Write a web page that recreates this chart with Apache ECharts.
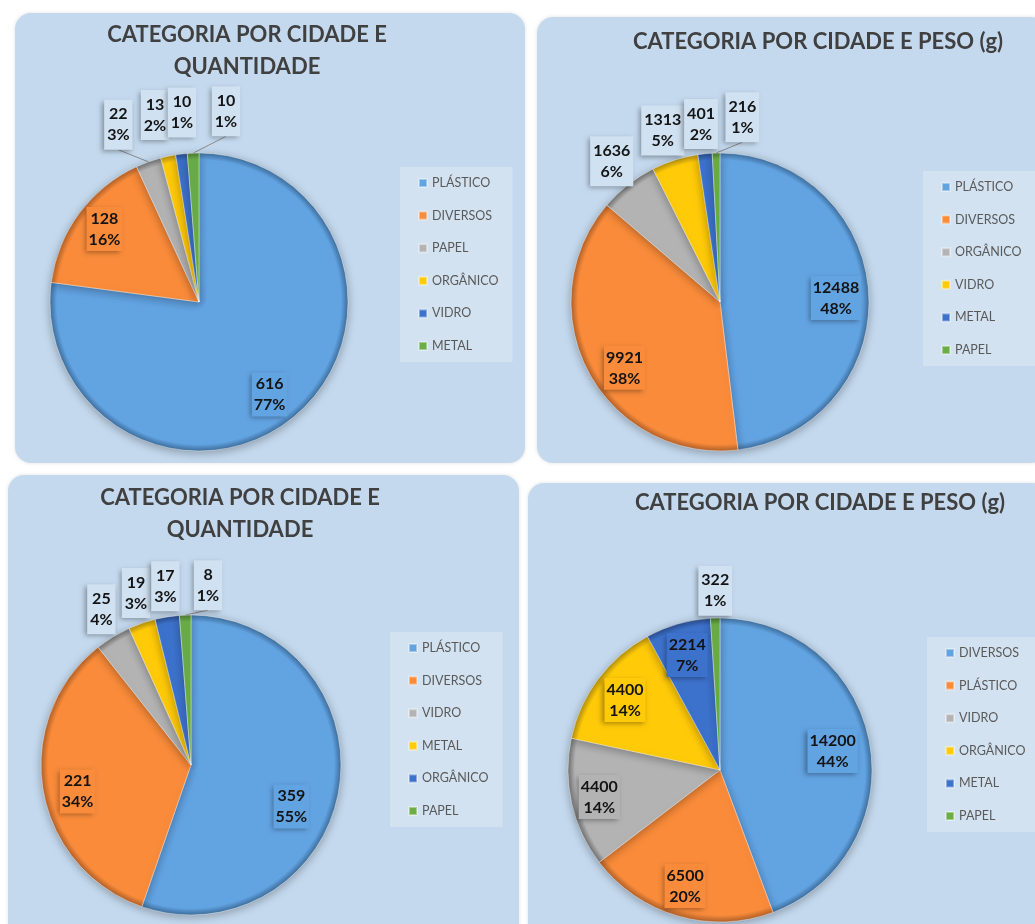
<!DOCTYPE html>
<html><head><meta charset="utf-8">
<script src="https://cdn.jsdelivr.net/npm/echarts@6/dist/echarts.min.js"></script>
<style>
html,body{margin:0;padding:0;background:#fff;width:1035px;height:924px;overflow:hidden}
.c{position:absolute;left:0;top:0;width:1035px;height:924px}
</style>
</head><body>
<div id="c1" class="c"></div>
<div id="c2" class="c"></div>
<div id="c3" class="c"></div>
<div id="c4" class="c"></div>
<script>
// ---- data ----
const names1 = ['PLÁSTICO','DIVERSOS','PAPEL','ORGÂNICO','VIDRO','METAL'];
const values1 = [616,128,22,13,10,10];
const names2 = ['PLÁSTICO','DIVERSOS','ORGÂNICO','VIDRO','METAL','PAPEL'];
const values2 = [12488,9921,1636,1313,401,216];
const names3 = ['PLÁSTICO','DIVERSOS','VIDRO','METAL','ORGÂNICO','PAPEL'];
const values3 = [359,221,25,19,17,8];
const names4 = ['DIVERSOS','PLÁSTICO','VIDRO','ORGÂNICO','METAL','PAPEL'];
const values4 = [14200,6500,4400,4400,2214,322];
const titleQtd = ['CATEGORIA POR CIDADE E','QUANTIDADE'];
const titlePeso = ['CATEGORIA POR CIDADE E PESO (g)'];

// ---- style / layout ----
const palette = ['#62A3E2','#F98B3A','#B3B3B3','#FFCA08','#3D72CC','#6AAE45'];
const rims    = ['#3D6E9C','#B0602A','#707070','#B08E10','#2A4C8A','#4A7A30'];
const panelFill = '#C4D9EE';
const FONT = 'Lato, "Open Sans", sans-serif';

const panels = [
  {el:'c1', names:names1, values:values1, title:titleQtd, box:[15,13,510,450], tx:247, ty:35,
   center:[199,302], r:149, legend:[400,167], inside:[1,1,0,0,0,0], line:[0,0,1,0,0,1],
   nudge:[[-6,5],[-1,-4],[-20,-9],[-7,-12],[4,-12],[34,-12]]},
  {el:'c2', names:names2, values:values2, title:titlePeso, box:[537,17,510,446], tx:818, ty:42,
   center:[720,302], r:149, legend:[923,171], inside:[1,1,0,0,0,0], line:[0,0,0,0,0,1],
   nudge:[[0,3],[7,11],[2,0],[-3,-1],[-1,0],[27,-6]]},
  {el:'c3', names:names3, values:values3, title:titleQtd, box:[8,475,511,470], tx:240, ty:498,
   center:[191,765], r:150, legend:[390,632], inside:[1,1,0,0,0,0], line:[0,0,0,0,0,1],
   nudge:[[-15,22],[2,7],[4,-2],[4,-2],[3,-1],[24,0]]},
  {el:'c4', names:names4, values:values4, title:titlePeso, box:[528,483,520,460], tx:820, ty:503,
   center:[720,770], r:152, legend:[927,637], inside:[1,1,1,1,1,0], line:[0,0,0,0,0,0],
   nudge:[[-4,2],[-2,2],[-5,1],[0,1],[0,-1],[1,3]]}
];

panels.forEach(function(P){
  const chart = echarts.init(document.getElementById(P.el), null, {renderer:'canvas'});
  const total = P.values.reduce((a,b)=>a+b,0);
  let acc = 0;
  const mids = P.values.map(v => { const m = (acc + v/2)/total*2*Math.PI; acc += v; return m; });
  const cx = P.center[0], cy = P.center[1], R = P.r;

  const data = P.names.map(function(n,i){
    const c = palette[i];
    const isIn = P.inside[i] === 1;
    return {
      name: n, value: P.values[i],
      itemStyle: {
        color: {type:'radial', x:cx, y:cy, r:R, global:true,
          colorStops:[{offset:0,color:c},{offset:0.955,color:c},{offset:1,color:rims[i]}]}
      },
      label: isIn ? {position:'inside', backgroundColor:c, padding:[1,2]}
                  : {position:'outside', backgroundColor:'#D0E1F1', padding:[4,3]},
      labelLine: {show: P.line[i] === 1}
    };
  });

  const graphics = [{
    type:'rect', z:0, silent:true,
    shape:{x:P.box[0], y:P.box[1], width:P.box[2], height:P.box[3], r:16},
    style:{fill:panelFill, shadowBlur:4, shadowColor:'rgba(0,0,0,0.12)'}
  }];
  P.title.forEach(function(t,i){
    graphics.push({type:'text', z:1, silent:true, x:P.tx, y:P.ty + i*32,
      style:{text:t, fill:'#404040', font:'bold 22px ' + FONT, align:'center', verticalAlign:'middle'}});
  });

  chart.setOption({
    animation:false,
    backgroundColor:'transparent',
    graphic: graphics,
    legend: {
      orient:'vertical', left:P.legend[0], top:P.legend[1],
      backgroundColor:'#D3E2F1', padding:[9,14,9,18],
      icon:'rect', itemWidth:8, itemHeight:8, itemGap:18.6,
      selectedMode:false,
      textStyle:{color:'#595959', fontFamily:FONT, fontSize:12.5, lineHeight:14},
      data: P.names.map((n,i)=>({name:n, itemStyle:{color:palette[i]}}))
    },
    series: [{
      type:'pie', center:[cx,cy], radius:R, startAngle:90, clockwise:true,
      avoidLabelOverlap:false, percentPrecision:0, silent:true,
      itemStyle:{borderColor:'rgba(255,255,255,0.4)', borderWidth:1,
                 shadowBlur:10, shadowColor:'rgba(0,0,0,0.3)', shadowOffsetY:2},
      label:{show:true, formatter:'{c}\n{d}%', fontFamily:FONT, fontWeight:'bold', fontSize:16,
             lineHeight:21, color:'#141414', align:'center',
             shadowColor:'rgba(0,0,0,0.35)', shadowBlur:5, shadowOffsetX:-2, shadowOffsetY:2},
      labelLine:{length:8, length2:0, lineStyle:{color:'#8A8A8A', width:1}},
      labelLayout: function(p){
        const i = p.dataIndex;
        const k = P.inside[i] === 1 ? 0.78 : 1.2;
        return {
          x: cx + k*R*Math.sin(mids[i]) + P.nudge[i][0],
          y: cy - k*R*Math.cos(mids[i]) + P.nudge[i][1],
          align:'center', verticalAlign:'middle'
        };
      },
      data: data
    }]
  });
});
</script>
</body></html>
